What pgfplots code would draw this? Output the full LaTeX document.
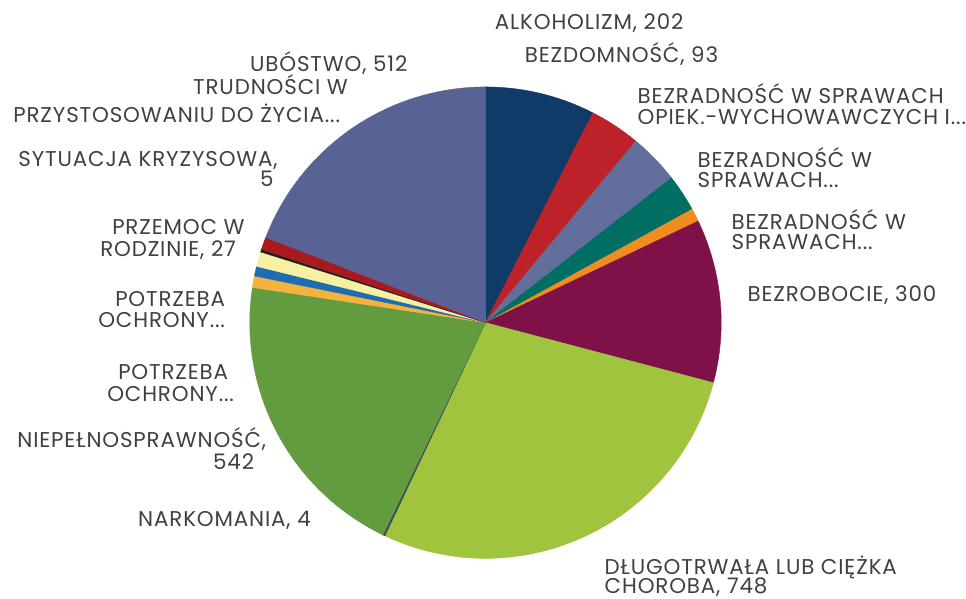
\documentclass[border=0pt]{standalone}
\usepackage{pgfplots}
\pgfplotsset{compat=1.18}
\usepackage{fontspec}
\setmainfont{Poppins}[LetterSpace=4]

\definecolor{cAlk}{RGB}{16,58,104}
\definecolor{cBezd}{RGB}{188,34,40}
\definecolor{cOpiek}{RGB}{98,110,156}
\definecolor{cTeal}{RGB}{0,110,98}
\definecolor{cOrange}{RGB}{240,140,32}
\definecolor{cBezrob}{RGB}{126,18,72}
\definecolor{cChor}{RGB}{160,196,62}
\definecolor{cNark}{RGB}{60,72,92}
\definecolor{cNiep}{RGB}{98,156,62}
\definecolor{cPotA}{RGB}{244,178,62}
\definecolor{cPotB}{RGB}{30,108,178}
\definecolor{cPrzem}{RGB}{246,240,162}
\definecolor{cSyt}{RGB}{32,32,32}
\definecolor{cTrud}{RGB}{168,26,30}
\definecolor{cUbos}{RGB}{88,98,148}
\definecolor{labelgray}{RGB}{64,64,64}

% value/colour, clockwise from 12 o'clock
\def\pielist{202/cAlk,93/cBezd,93/cOpiek,68/cTeal,24/cOrange,300/cBezrob,
  748/cChor,4/cNark,542/cNiep,21/cPotA,18/cPotB,27/cPrzem,5/cSyt,23/cTrud,512/cUbos}

\tikzset{lbl/.style={anchor=base west, inner sep=0pt, text=labelgray,
  font=\fontsize{10.75}{12}\selectfont}}

\begin{document}
\begin{tikzpicture}
\begin{axis}[
  width=483bp, height=299.5bp, scale only axis,
  hide axis, clip=false,
  xmin=0, xmax=966, ymin=0, ymax=599, y dir=reverse,
]
  % keep the whole frame in the bounding box
  \path (axis cs:0,0) (axis cs:966,599);

  \gdef\pietotal{0}
  \foreach \v/\c in \pielist {\pgfmathsetmacro\tmp{\pietotal+\v}\xdef\pietotal{\tmp}}
  \gdef\pieacc{0}
  \foreach \v/\c in \pielist {
    \pgfmathsetmacro\a{360*(\pieacc/\pietotal)}
    \pgfmathsetmacro\b{360*((\pieacc+\v)/\pietotal)}
    \pgfmathtruncatemacro\ns{(\b-\a)/2+3}
    \edef\temp{\noexpand\addplot[fill=\c, draw=\c, line width=0.2pt,
      domain=\a:\b, samples=\ns]
      ({486+236*sin(x)}, {323-236*cos(x)}) -- (axis cs:486,323) -- cycle;}
    \temp
    \pgfmathsetmacro\tmp{\pieacc+\v}\xdef\pieacc{\tmp}
  }

  \node[lbl] at (axis cs:495,30) {ALKOHOLIZM, 202};
  \node[lbl] at (axis cs:525,63) {BEZDOMNOŚĆ, 93};
  \node[lbl] at (axis cs:638,104) {BEZRADNOŚĆ W SPRAWACH};
  \node[lbl] at (axis cs:638,125) {OPIEK.-WYCHOWAWCZYCH I...};
  \node[lbl] at (axis cs:698,168) {BEZRADNOŚĆ W};
  \node[lbl] at (axis cs:698,188) {SPRAWACH...};
  \node[lbl] at (axis cs:732,230) {BEZRADNOŚĆ W};
  \node[lbl] at (axis cs:732,250) {SPRAWACH...};
  \node[lbl] at (axis cs:748,302) {BEZROBOCIE, 300};
  \node[lbl] at (axis cs:605,575) {DŁUGOTRWAŁA LUB CIĘŻKA};
  \node[lbl] at (axis cs:605,594) {CHOROBA, 748};
  \node[lbl] at (axis cs:138,527) {NARKOMANIA, 4};
  \node[lbl] at (axis cs:17,448) {NIEPEŁNOSPRAWNOŚĆ,};
  \node[lbl] at (axis cs:213,470) {542};
  \node[lbl] at (axis cs:118,380) {POTRZEBA};
  \node[lbl] at (axis cs:107,402) {OCHRONY...};
  \node[lbl] at (axis cs:115,307) {POTRZEBA};
  \node[lbl] at (axis cs:98,328) {OCHRONY...};
  \node[lbl] at (axis cs:112,235) {PRZEMOC W};
  \node[lbl] at (axis cs:100,257) {RODZINIE, 27};
  \node[lbl] at (axis cs:18,167) {SYTUACJA KRYZYSOWA,};
  \node[lbl] at (axis cs:260,187) {5};
  \node[lbl] at (axis cs:193,95) {TRUDNOŚCI W};
  \node[lbl] at (axis cs:13,123) {PRZYSTOSOWANIU DO ŻYCIA...};
  \node[lbl] at (axis cs:250,72) {UBÓSTWO, 512};
\end{axis}
\end{tikzpicture}
\end{document}
